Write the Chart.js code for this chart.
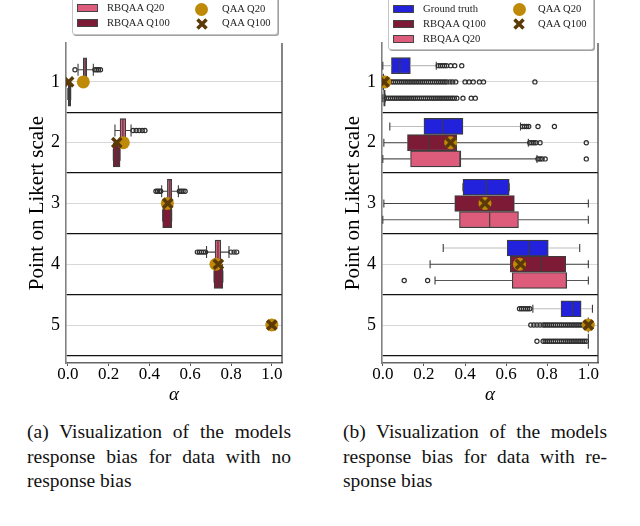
<!DOCTYPE html>
<html>
<head>
<meta charset="utf-8">
<script src="https://cdn.jsdelivr.net/npm/chart.js@4.4.1/dist/chart.umd.min.js"></script>
<style>
body { margin:0; width:640px; height:526px; overflow:hidden; background:#fff; position:relative; font-family:'Liberation Serif', 'Times New Roman', serif; }
canvas { position:absolute; top:0; }
#chartA { left:0; }
#chartB { left:316px; }
.legend { position:absolute; background:#fff; border:1px solid #c4c4c4; border-radius:3px; box-shadow:1px 1px 0 #a0a0a0; }
.sw { position:absolute; width:19px; height:6px; border:1px solid #444; }
.lt { position:absolute; font-size:10.6px; line-height:12px; color:#222; white-space:nowrap; }
.dot { position:absolute; width:13px; height:13px; border-radius:50%; background:#bf8a08; }
.xm { position:absolute; }
.cap { position:absolute; top:420px; width:264px; font-size:19.5px; line-height:24.5px; color:#111; }
.cap div { text-align:justify; text-align-last:justify; white-space:nowrap; }
.cap div.last { text-align-last:left; }
</style>
</head>
<body>
<canvas id="chartA" width="300" height="410"></canvas>
<canvas id="chartB" width="300" height="410"></canvas>

<div class="legend" style="left:72px;top:-4px;width:204px;height:37px"></div>
<div class="sw" style="left:77px;top:4px;background:#dd5c7b"></div>
<div class="lt" style="left:107px;top:2px">RBQAA Q20</div>
<div class="sw" style="left:77px;top:19px;background:#7d1a36"></div>
<div class="lt" style="left:107px;top:17px">RBQAA Q100</div>
<div class="dot" style="left:195px;top:2.5px"></div>
<div class="lt" style="left:222px;top:3px">QAA Q20</div>
<svg class="xm" width="14" height="14" style="left:195px;top:16.5px"><path d="M2.5 2.5L11.5 11.5M11.5 2.5L2.5 11.5" stroke="#5b3a07" stroke-width="3.5"/></svg>
<div class="lt" style="left:222px;top:17px">QAA Q100</div>

<div class="legend" style="left:388px;top:-4px;width:204px;height:52px"></div>
<div class="sw" style="left:393px;top:4.5px;background:#2222dd"></div>
<div class="lt" style="left:423px;top:2.5px">Ground truth</div>
<div class="sw" style="left:393px;top:20px;background:#7d1a36"></div>
<div class="lt" style="left:423px;top:18px">RBQAA Q100</div>
<div class="sw" style="left:393px;top:35px;background:#dd5c7b"></div>
<div class="lt" style="left:423px;top:33px">RBQAA Q20</div>
<div class="dot" style="left:512.5px;top:2.5px"></div>
<div class="lt" style="left:538px;top:3px">QAA Q20</div>
<svg class="xm" width="14" height="14" style="left:512px;top:17px"><path d="M2.5 2.5L11.5 11.5M11.5 2.5L2.5 11.5" stroke="#5b3a07" stroke-width="3.5"/></svg>
<div class="lt" style="left:538px;top:18px">QAA Q100</div>

<div class="cap" style="left:27px">
  <div>(a) Visualization of the models</div>
  <div>response bias for data with no</div>
  <div class="last">response bias</div>
</div>
<div class="cap" style="left:343px">
  <div>(b) Visualization of the models</div>
  <div>response bias for data with re-</div>
  <div class="last">sponse bias</div>
</div>

<script>
const likertPoints = [1, 2, 3, 4, 5];
const rowSeparators = [1.5, 2.5, 3.5, 4.5, 5.5];
const alphaTicks = [0, 0.2, 0.4, 0.6, 0.8, 1.0];

// box stats per Likert point: [low whisker, Q1, median, Q3, high whisker]
// (a) data with no response bias
const aRbqaaQ20 = [
    [0.05, 0.076, 0.085, 0.093, 0.125],
    [0.231, 0.256, 0.27, 0.284, 0.31],
    [0.46, 0.488, 0.5, 0.509, 0.542],
    [0.68, 0.722, 0.736, 0.75, 0.79],
    null
];
const aRbqaaQ20Fliers = [
    [0.035, 0.133, 0.142, 0.15, 0.16],
    [0.32, 0.335, 0.35, 0.365, 0.378],
    [0.432, 0.44, 0.448, 0.455, 0.547, 0.556, 0.565, 0.575],
    [0.635, 0.645, 0.655, 0.665, 0.675, 0.8, 0.815, 0.828],
    []
];
const aRbqaaQ100 = [
    [0.0, 0.0, 0.008, 0.014, 0.014],
    [0.223, 0.223, 0.24, 0.256, 0.256],
    [0.465, 0.465, 0.506, 0.509, 0.509],
    [0.717, 0.717, 0.74, 0.76, 0.76],
    null
];
const aQaaQ20 = [0.076, 0.272, 0.488, 0.726, 1.0];
const aQaaQ100 = [0.004, 0.24, 0.49, 0.738, 1.0];

// (b) data with response bias
const bGroundTruth = [
    [0.0, 0.042, 0.083, 0.134, 0.26],
    [0.034, 0.2, 0.29, 0.39, 0.67],
    [0.39, 0.39, 0.503, 0.615, 0.615],
    [0.294, 0.605, 0.71, 0.805, 0.958],
    [0.73, 0.867, 0.923, 0.965, 1.02]
];
const bGroundTruthFliers = [
    [0.27, 0.28, 0.29, 0.3, 0.31, 0.33, 0.35, 0.384],
    [0.68, 0.69, 0.7, 0.71, 0.755, 0.835],
    [],
    [],
    [0.665, 0.675, 0.685, 0.695, 0.705, 0.715]
];
const bRbqaaQ100 = [
    [0.0, 0.0, 0.002, 0.005, 0.005],
    [0.005, 0.12, 0.226, 0.36, 0.708],
    [0.005, 0.35, 0.497, 0.64, 1.0],
    [0.23, 0.62, 0.77, 0.89, 1.0],
    [1.0, 1.0, 1.0, 1.0, 1.0]
];
const bRbqaaQ100Fliers = [
    [0.012, 0.022, 0.032, 0.042, 0.052, 0.062, 0.072, 0.082, 0.092, 0.102, 0.112, 0.122, 0.132, 0.142,
     0.152, 0.162, 0.172, 0.182, 0.192, 0.202, 0.212, 0.222, 0.232, 0.242, 0.252, 0.262, 0.272, 0.282,
     0.292, 0.302, 0.312, 0.327, 0.34, 0.355, 0.4, 0.42, 0.44, 0.47, 0.49, 0.74],
    [0.715, 0.725, 0.735, 0.745, 0.765, 0.99],
    [],
    [],
    [0.72, 0.735, 0.75, 0.765, 0.78, 0.79, 0.8, 0.81, 0.82, 0.83, 0.84, 0.85, 0.86, 0.87, 0.88, 0.89,
     0.9, 0.91, 0.92, 0.93, 0.94, 0.95, 0.96, 0.97, 0.98, 0.99]
];
const bRbqaaQ20 = [
    [0.0, 0.004, 0.008, 0.012, 0.012],
    [0.0, 0.135, 0.375, 0.38, 0.75],
    [0.0, 0.373, 0.52, 0.66, 1.0],
    [0.254, 0.63, 0.893, 0.895, 1.0],
    [1.0, 1.0, 1.0, 1.0, 1.0]
];
const bRbqaaQ20Fliers = [
    [0.018, 0.028, 0.038, 0.048, 0.058, 0.068, 0.078, 0.088, 0.098, 0.108, 0.118, 0.128, 0.138, 0.148,
     0.158, 0.168, 0.178, 0.188, 0.198, 0.208, 0.218, 0.228, 0.238, 0.248, 0.258, 0.268, 0.278, 0.288,
     0.298, 0.308, 0.318, 0.328, 0.338, 0.348, 0.36, 0.39, 0.43, 0.45],
    [0.755, 0.765, 0.775, 0.79, 0.99],
    [],
    [0.104, 0.218],
    [0.75, 0.78, 0.79, 0.8, 0.81, 0.82, 0.83, 0.84, 0.85, 0.86, 0.87, 0.88, 0.89, 0.9, 0.91, 0.92,
     0.93, 0.94, 0.95, 0.96, 0.97, 0.98, 0.99]
];
const bQaaQ20 = [0.01, 0.33, 0.497, 0.665, 1.0];
const bQaaQ100 = [0.006, 0.33, 0.497, 0.67, 1.0];

const serif = "'Liberation Serif', 'Times New Roman', serif";
const pink = '#dd5c7b', maroon = '#7d1a36', blue = '#2222dd';
const gold = '#bf8a08', brown = '#5b3a07', edge = '#3c3c3c';

// whiskers, caps and median lines for each box dataset
const boxParts = {
    id: 'boxParts',
    afterDatasetDraw(chart, args) {
        const ds = chart.data.datasets[args.index];
        if (!ds.stats) return;
        const xs = chart.scales.x, ys = chart.scales.y, ctx = chart.ctx;
        const half = ds.barThickness / 2;
        ctx.save();
        ctx.lineWidth = 1.1;
        ds.stats.forEach((s, i) => {
            if (!s) return;
            const y = ys.getPixelForValue(likertPoints[i] + ds.rowOffset);
            const [lo, q1, med, q3, hi] = s.map(v => xs.getPixelForValue(v));
            ctx.strokeStyle = ds.whiskerColor;
            ctx.beginPath();
            ctx.moveTo(lo, y); ctx.lineTo(q1, y);
            ctx.moveTo(q3, y); ctx.lineTo(hi, y);
            ctx.stroke();
            ctx.strokeStyle = edge;
            ctx.beginPath();
            ctx.moveTo(lo, y - half / 2); ctx.lineTo(lo, y + half / 2);
            ctx.moveTo(hi, y - half / 2); ctx.lineTo(hi, y + half / 2);
            ctx.moveTo(med, y - half + 0.5); ctx.lineTo(med, y + half - 0.5);
            ctx.stroke();
        });
        ctx.restore();
    }
};

const rightSpine = {
    id: 'rightSpine',
    afterDatasetsDraw(chart) {
        const {ctx, chartArea: a} = chart;
        ctx.save();
        ctx.strokeStyle = '#333';
        ctx.lineWidth = 1.2;
        ctx.beginPath();
        ctx.moveTo(a.right, a.top);
        ctx.lineTo(a.right, a.bottom);
        ctx.stroke();
        ctx.restore();
    }
};

function boxDataset(stats, offset, color, thickness, whiskerColor) {
    return {
        type: 'bar',
        indexAxis: 'y',
        data: stats.map((s, i) => s ? {x: [s[1], s[3]], y: likertPoints[i] + offset} : null).filter(Boolean),
        backgroundColor: color,
        borderColor: edge,
        borderWidth: 1.2,
        borderSkipped: false,
        barThickness: thickness,
        grouped: false,
        order: 5,
        stats: stats,
        rowOffset: offset,
        whiskerColor: whiskerColor
    };
}

function flierDataset(fliers, offset) {
    const pts = [];
    fliers.forEach((row, i) => row.forEach(v => pts.push({x: v, y: likertPoints[i] + offset})));
    return {
        type: 'scatter',
        data: pts,
        pointStyle: 'circle',
        pointRadius: 2.1,
        borderWidth: 1.2,
        borderColor: '#2e2e2e',
        backgroundColor: 'rgba(255,255,255,0)',
        order: 3
    };
}

function markerDatasets(q20, q100) {
    return [{
        type: 'scatter',
        data: q20.map((v, i) => ({x: v, y: likertPoints[i]})),
        pointStyle: 'circle',
        pointRadius: 6.5,
        backgroundColor: gold,
        borderColor: gold,
        borderWidth: 0,
        order: 1
    }, {
        type: 'scatter',
        data: q100.map((v, i) => ({x: v, y: likertPoints[i]})),
        pointStyle: 'crossRot',
        pointRadius: 6.5,
        borderColor: brown,
        borderWidth: 3.5,
        order: 0
    }];
}

function makeChart(id, datasets, xMin, xMax) {
    return new Chart(document.getElementById(id), {
        type: 'scatter',
        data: {datasets: datasets},
        plugins: [boxParts, rightSpine],
        options: {
            responsive: false,
            animation: false,
            events: [],
            layout: {padding: {top: 43, right: 18, bottom: 0, left: 0}},
            plugins: {legend: {display: false}, tooltip: {enabled: false}},
            scales: {
                x: {
                    type: 'linear',
                    min: xMin,
                    max: xMax,
                    afterBuildTicks: s => { s.ticks = alphaTicks.map(v => ({value: v})); },
                    afterFit: s => { s.height = 47; },
                    ticks: {
                        callback: v => v.toFixed(1),
                        font: {family: serif, size: 17, lineHeight: 1},
                        color: '#000',
                        padding: 0,
                        autoSkip: false,
                        maxRotation: 0
                    },
                    grid: {drawOnChartArea: false, drawTicks: true, tickLength: 3, color: '#555'},
                    border: {color: '#666', width: 1.5},
                    title: {
                        display: true,
                        text: 'α',
                        font: {family: serif, size: 19, style: 'italic'},
                        color: '#000',
                        padding: {top: 0, bottom: 4}
                    }
                },
                y: {
                    type: 'linear',
                    reverse: true,
                    min: 0.36,
                    max: 5.625,
                    offset: false,
                    afterBuildTicks: s => {
                        s.ticks = likertPoints.concat(rowSeparators).sort((a, b) => a - b).map(v => ({value: v}));
                    },
                    afterFit: s => { s.width = 66; },
                    ticks: {
                        callback: v => Number.isInteger(v) ? String(v) : '',
                        font: {family: serif, size: 18},
                        color: '#000',
                        padding: 6,
                        autoSkip: false
                    },
                    grid: {
                        offset: false,
                        drawTicks: false,
                        color: c => (c.tick && Number.isInteger(c.tick.value)) ? '#d8d8d8' : '#111',
                        lineWidth: c => (c.tick && Number.isInteger(c.tick.value)) ? 1 : 1.3
                    },
                    border: {color: '#808080', width: 1.6},
                    title: {
                        display: true,
                        text: 'Point on Likert scale',
                        font: {family: serif, size: 21},
                        color: '#000',
                        padding: {top: 25, bottom: 0}
                    }
                }
            }
        }
    });
}

makeChart('chartA', [
    boxDataset(aRbqaaQ20, -0.2, pink, 24, '#444'),
    boxDataset(aRbqaaQ100, 0.2, maroon, 24, '#444'),
    flierDataset(aRbqaaQ20Fliers, -0.2)
].concat(markerDatasets(aQaaQ20, aQaaQ100)), -0.009, 1.05);

makeChart('chartB', [
    boxDataset(bGroundTruth, -0.267, blue, 16, '#bdbdbd'),
    boxDataset(bRbqaaQ100, 0, maroon, 16, '#444'),
    boxDataset(bRbqaaQ20, 0.267, pink, 16, '#555'),
    flierDataset(bGroundTruthFliers, -0.267),
    flierDataset(bRbqaaQ100Fliers, 0),
    flierDataset(bRbqaaQ20Fliers, 0.267)
].concat(markerDatasets(bQaaQ20, bQaaQ100)), -0.004, 1.047);
</script>
</body>
</html>
